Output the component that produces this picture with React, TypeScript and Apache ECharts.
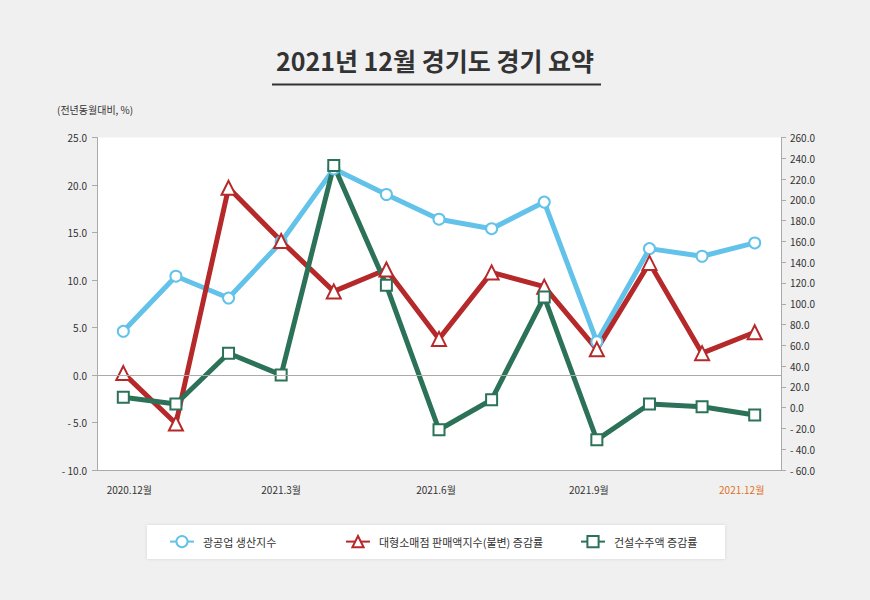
import React, { useEffect, useRef } from "react";
import * as echarts from "echarts";

const categories = [
  "2020.12월", "2021.1월", "2021.2월", "2021.3월", "2021.4월", "2021.5월", "2021.6월",
  "2021.7월", "2021.8월", "2021.9월", "2021.10월", "2021.11월", "2021.12월",
];
const seriesNames = ["광공업 생산지수", "대형소매점 판매액지수(불변) 증감률", "건설수주액 증감률"];
const mining = [4.6, 10.4, 8.1, 14.0, 21.7, 19.0, 16.4, 15.4, 18.2, 3.5, 13.3, 12.5, 13.9];
const retail = [0.2, -5.1, 19.7, 14.1, 8.8, 11.1, 3.8, 10.8, 9.3, 2.7, 11.8, 2.3, 4.5];
const construction = [10, 3.5, 52.4, 31.5, 233, 117.7, -21.3, 7.6, 106.5, -31, 3.5, 0.9, -7.1];
const titleText = "2021년 12월 경기도 경기 요약";
const unitText = "(전년동월대비, %)";

const FONT = "'Noto Sans CJK KR', 'Noto Sans', sans-serif";
const BLUE = "#62c2ea";
const RED = "#b5292a";
const GREEN = "#2b7258";

const fmt = (v: number) => (v < 0 ? "- " + Math.abs(v).toFixed(1) : v.toFixed(1));

// small label offsets (left/right padding) to match the reference label placement
const labelPad: Record<number, number[]> = {
  0: [0, 0, 0, 12],
  6: [0, 6, 0, 0],
  9: [0, 16, 0, 0],
  12: [0, 26, 0, 0],
};

export default function App() {
  const ref = useRef<HTMLDivElement>(null);
  useEffect(() => {
    if (!ref.current) return;
    const chart = echarts.init(ref.current, undefined, { renderer: "svg" });
    const legendCommon = {
      top: 535,
      itemWidth: 24,
      itemHeight: 14,
      padding: 0,
      textStyle: { fontFamily: FONT, fontSize: 11, color: "#333", padding: [0, 0, 0, 4] },
      selectedMode: false,
    };
    chart.setOption({
      animation: false,
      backgroundColor: "#f0f0f0",
      textStyle: { fontFamily: FONT },
      title: {
        text: titleText,
        left: "center",
        top: 42,
        textStyle: { fontFamily: FONT, fontSize: 25, fontWeight: "bold", color: "#333" },
      },
      graphic: [
        {
          type: "line",
          shape: { x1: 272, y1: 84.5, x2: 601, y2: 84.5 },
          style: { stroke: "#333", lineWidth: 2 },
        },
        {
          type: "text",
          x: 57,
          y: 104,
          style: { text: unitText, fontFamily: FONT, fontSize: 10, fill: "#333" },
        },
        {
          type: "rect",
          shape: { x: 147, y: 525, width: 578, height: 34 },
          style: { fill: "#fff", shadowBlur: 3, shadowColor: "rgba(0,0,0,0.12)" },
          z: -1,
        },
      ],
      legend: [
        { ...legendCommon, left: 169, data: [seriesNames[0]] },
        { ...legendCommon, left: 345, data: [seriesNames[1]] },
        { ...legendCommon, left: 580, data: [seriesNames[2]] },
      ],
      grid: {
        left: 97,
        right: 89,
        top: 137.5,
        bottom: 130,
        show: true,
        backgroundColor: "#fff",
        borderWidth: 0,
      },
      xAxis: {
        type: "category",
        boundaryGap: true,
        data: categories.map((c, i) => {
          const ts: any = {};
          if (labelPad[i]) ts.padding = labelPad[i];
          if (i === categories.length - 1) ts.color = "#e0701e";
          return Object.keys(ts).length ? { value: c, textStyle: ts } : c;
        }),
        axisLine: { onZero: false, lineStyle: { color: "#aaa", width: 1 } },
        axisTick: { show: false },
        axisLabel: { interval: 2, margin: 14, fontSize: 10, color: "#333", fontFamily: FONT },
        splitLine: { show: false },
      },
      yAxis: [
        {
          type: "value",
          min: -10,
          max: 25,
          interval: 5,
          position: "left",
          axisLine: { show: true, lineStyle: { color: "#aaa" } },
          axisTick: { show: true, length: 5, lineStyle: { color: "#aaa" } },
          axisLabel: { formatter: fmt, fontSize: 10, color: "#333", margin: 10, fontFamily: FONT },
          splitLine: { show: false },
        },
        {
          type: "value",
          min: -60,
          max: 260,
          interval: 20,
          position: "right",
          axisLine: { show: true, lineStyle: { color: "#aaa" } },
          axisTick: { show: true, length: 5, lineStyle: { color: "#aaa" } },
          axisLabel: { formatter: fmt, fontSize: 10, color: "#333", margin: 9, fontFamily: FONT },
          splitLine: { show: false },
        },
      ],
      series: [
        {
          name: seriesNames[0],
          type: "line",
          yAxisIndex: 0,
          data: mining,
          symbol: "emptyCircle",
          symbolSize: 11,
          lineStyle: { color: BLUE, width: 5 },
          itemStyle: { color: BLUE, borderWidth: 3 },
          markLine: {
            silent: true,
            symbol: "none",
            label: { show: false },
            lineStyle: { color: "#aaa", type: "solid", width: 1 },
            data: [{ yAxis: 0 }],
          },
        },
        {
          name: seriesNames[1],
          type: "line",
          yAxisIndex: 0,
          data: retail,
          symbol: "emptyTriangle",
          symbolSize: 14,
          lineStyle: { color: RED, width: 5 },
          itemStyle: { color: RED, borderWidth: 3 },
        },
        {
          name: seriesNames[2],
          type: "line",
          yAxisIndex: 1,
          data: construction,
          symbol: "emptyRect",
          symbolSize: 11,
          lineStyle: { color: GREEN, width: 5 },
          itemStyle: { color: GREEN, borderWidth: 3 },
        },
      ],
    });
    return () => chart.dispose();
  }, []);
  return (
    <div
      ref={ref}
      style={{ position: "absolute", left: 0, top: 0, width: 870, height: 600 }}
    />
  );
}
